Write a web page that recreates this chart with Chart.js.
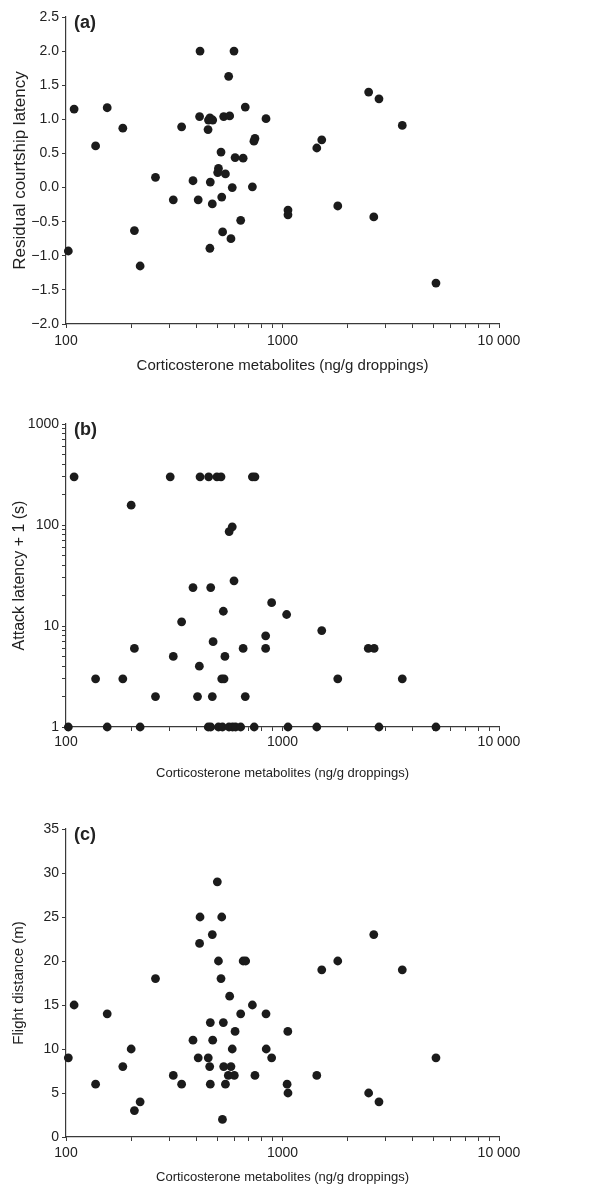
<!DOCTYPE html>
<html>
<head>
<meta charset="utf-8">
<script src="https://cdn.jsdelivr.net/npm/chart.js@4.4.1/dist/chart.umd.min.js"></script>
<style>
  body { margin: 0; background: #fff; }
  .panel { position: absolute; left: 0; width: 614px; }
</style>
</head>
<body>
<div class="panel" id="wrapA" style="top:0px;height:385px"><canvas id="chartA"></canvas></div>
<div class="panel" id="wrapB" style="top:395px;height:390px"><canvas id="chartB"></canvas></div>
<div class="panel" id="wrapC" style="top:800px;height:387px"><canvas id="chartC"></canvas></div>
<script>
// shared x axis (log)
const xTitle = 'Corticosterone metabolites (ng/g droppings)';
const xTickValues = [100, 200, 300, 400, 500, 600, 700, 800, 900, 1000, 2000, 3000, 4000, 5000, 6000, 7000, 8000, 9000, 10000];
const xTickLabels = { 100: '100', 1000: '1000', 10000: '10 000' };

// (a) residual courtship latency
const courtX = [109, 416, 597, 564, 2500, 2790, 155, 183, 414, 455, 462, 476, 535, 570, 673, 839, 342, 453, 3575, 137,
  746, 738, 1440, 1518, 520, 604, 658, 506, 502, 545, 259, 386, 464, 586, 726, 313, 408, 474, 524, 207,
  102.5, 220, 462, 529, 578, 641, 1060, 1060, 1800, 2640, 5115];
const courtY = [1.15, 2.0, 2.0, 1.63, 1.40, 1.30, 1.17, 0.87, 1.04, 0.99, 1.02, 0.99, 1.04, 1.05, 1.18, 1.01, 0.89, 0.85, 0.91, 0.61,
  0.72, 0.68, 0.58, 0.70, 0.52, 0.44, 0.43, 0.28, 0.22, 0.20, 0.15, 0.10, 0.08, 0.00, 0.01, -0.18, -0.18, -0.24, -0.14, -0.63,
  -0.93, -1.15, -0.89, -0.65, -0.75, -0.48, -0.33, -0.40, -0.27, -0.43, -1.40];

// (b) attack latency + 1 (s)
const attackX = [109, 200, 303, 416, 456, 498, 520, 726, 746, 567, 586,
  597, 386, 466, 533, 891, 1045, 342, 1518, 836, 478, 207, 658, 836, 2490, 2650, 313, 542, 413, 137, 183, 524, 537, 1800, 3575, 259, 405, 474, 673,
  102.5, 155, 220, 454, 466, 506, 528, 566, 588, 607, 641, 740, 1060, 1440, 2790, 5115];
const attackY = [300, 157, 300, 300, 300, 300, 300, 300, 300, 86, 96,
  28, 24, 24, 14, 17, 13, 11, 9, 8, 7, 6, 6, 6, 6, 6, 5, 5, 4, 3, 3, 3, 3, 3, 3, 2, 2, 2, 2,
  1, 1, 1, 1, 1, 1, 1, 1, 1, 1, 1, 1, 1, 1, 1, 1];
const attackTickValues = [1, 2, 3, 4, 5, 6, 7, 8, 9, 10, 20, 30, 40, 50, 60, 70, 80, 90, 100, 200, 300, 400, 500, 600, 700, 800, 900, 1000];
const attackTickLabels = { 1: '1', 10: '10', 100: '100', 1000: '1000' };

// (c) flight distance (m)
const flightX = [102.5, 109, 137, 155, 183, 200, 207, 220, 259, 313, 342, 386, 408, 454, 461, 464, 464, 476, 506, 520,
  533, 535, 545, 528, 562, 570, 586, 578, 599, 604, 641, 658, 676, 726, 746, 839, 841, 891, 1058, 1050,
  1060, 1440, 1518, 1800, 2500, 2790, 3575, 5115, 500, 416, 524, 474, 414, 2640];
const flightY = [9, 15, 6, 14, 8, 10, 3, 4, 18, 7, 6, 11, 9, 9, 8, 13, 6, 11, 20, 18,
  13, 8, 6, 2, 7, 16, 10, 8, 7, 12, 14, 20, 20, 15, 7, 14, 10, 9, 12, 6,
  5, 7, 19, 20, 5, 4, 19, 9, 29, 25, 25, 23, 22, 23];

Chart.defaults.font.family = "'Liberation Sans', Arial, sans-serif";
Chart.defaults.color = '#222';

const axisColor = '#3a3a3a';

// draws the (a)/(b)/(c) tag in the top left corner of the plot
const panelTag = {
  id: 'panelTag',
  afterDraw(chart, args, opts) {
    const ctx = chart.ctx;
    ctx.save();
    ctx.font = "bold 18px 'Liberation Sans', Arial, sans-serif";
    ctx.fillStyle = '#222';
    ctx.textBaseline = 'middle';
    ctx.fillText(opts.text, chart.chartArea.left + 8, chart.chartArea.top + 6);
    ctx.restore();
  }
};

function makePanel(id, cfg) {
  const pts = cfg.xs.map((x, i) => ({ x: x, y: cfg.ys[i] }));
  const yScale = {
    type: cfg.yType,
    min: cfg.yMin,
    max: cfg.yMax,
    border: { display: true, color: axisColor, width: 1.2 },
    grid: { display: true, drawOnChartArea: false, drawTicks: true, tickLength: 4, color: axisColor },
    ticks: { font: { size: 14 }, padding: 3, color: '#222' },
    title: { display: true, text: cfg.yTitle, font: { size: cfg.yTitleSize }, padding: { top: cfg.yTitlePad, bottom: 0 }, color: '#222' },
    afterFit(scale) { scale.width = 66; }
  };
  if (cfg.yType === 'linear') {
    yScale.ticks.stepSize = cfg.yStep;
    yScale.ticks.callback = cfg.yFormat;
  } else {
    yScale.afterBuildTicks = scale => { scale.ticks = cfg.yTicks.map(v => ({ value: v })); };
    yScale.ticks.autoSkip = false;
    yScale.ticks.callback = v => cfg.yLabels[v] || '';
  }
  new Chart(document.getElementById(id), {
    type: 'scatter',
    data: {
      datasets: [{
        data: pts,
        backgroundColor: '#1b1b1b',
        borderWidth: 0,
        pointRadius: 4.4,
        pointHoverRadius: 4.4,
        clip: false
      }]
    },
    options: {
      responsive: true,
      maintainAspectRatio: false,
      animation: false,
      events: [],
      layout: { padding: { top: cfg.padTop, right: 115, left: 0, bottom: 0 } },
      plugins: {
        legend: { display: false },
        tooltip: { enabled: false },
        panelTag: { text: cfg.tag }
      },
      scales: {
        x: {
          type: 'logarithmic',
          min: 100,
          max: 10000,
          border: { display: true, color: axisColor, width: 1.2 },
          grid: { display: true, drawOnChartArea: false, drawTicks: true, tickLength: 4, color: axisColor },
          afterBuildTicks: scale => { scale.ticks = xTickValues.map(v => ({ value: v })); },
          ticks: {
            autoSkip: false,
            maxRotation: 0,
            font: { size: 14 },
            padding: cfg.xTickPad,
            color: '#222',
            callback: v => xTickLabels[v] || ''
          },
          title: { display: true, text: xTitle, font: { size: cfg.xTitleSize }, padding: { top: 0, bottom: cfg.xTitlePad }, color: '#222' },
          afterFit(scale) { scale.height = cfg.xHeight; }
        },
        y: yScale
      }
    },
    plugins: [panelTag]
  });
}

makePanel('chartA', {
  tag: '(a)', xs: courtX, ys: courtY,
  yType: 'linear', yMin: -2, yMax: 2.5, yStep: 0.5,
  yFormat: v => (v < 0 ? '\u2212' : '') + Math.abs(v).toFixed(1),
  yTitle: 'Residual courtship latency', yTitleSize: 17, yTitlePad: 10,
  xTitleSize: 15, xTitlePad: 10, xTickPad: 5,
  padTop: 17, xHeight: 61
});

makePanel('chartB', {
  tag: '(b)', xs: attackX, ys: attackY,
  yType: 'logarithmic', yMin: 1, yMax: 1000, yTicks: attackTickValues, yLabels: attackTickLabels,
  yTitle: 'Attack latency + 1 (s)', yTitleSize: 16, yTitlePad: 10,
  xTitleSize: 13, xTitlePad: 4, xTickPad: 3,
  padTop: 29, xHeight: 58
});

makePanel('chartC', {
  tag: '(c)', xs: flightX, ys: flightY,
  yType: 'linear', yMin: 0, yMax: 35, yStep: 5,
  yFormat: v => String(v),
  yTitle: 'Flight distance (m)', yTitleSize: 15, yTitlePad: 10,
  xTitleSize: 13, xTitlePad: 2, xTickPad: 4,
  padTop: 29, xHeight: 50
});
</script>
</body>
</html>
